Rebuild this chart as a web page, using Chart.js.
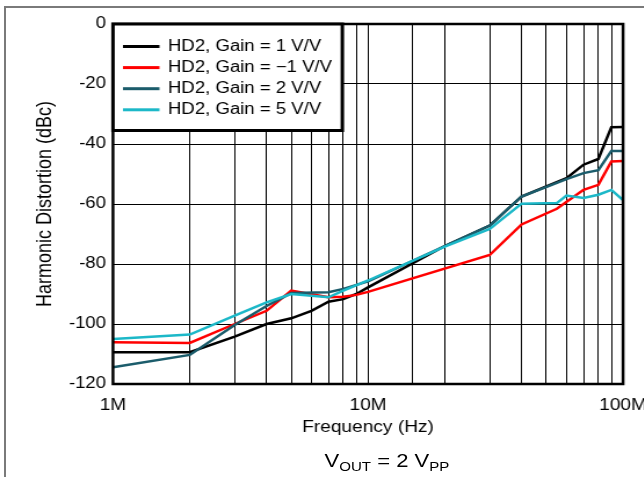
<!DOCTYPE html>
<html><head><meta charset="utf-8">
<script src="https://cdn.jsdelivr.net/npm/chart.js@4/dist/chart.umd.min.js"></script>
<style>
html,body{margin:0;padding:0;background:#fff;}
#wrap{position:relative;width:644px;height:477px;overflow:hidden;background:#fff;}
#stage{position:absolute;left:0;top:0;width:600px;height:477px;transform:scaleX(1.16);transform-origin:0 0;}
#c{position:absolute;left:0;top:0;}
#frameL{position:absolute;left:4px;top:6px;width:2px;height:471px;background:#7a7a7a;}
#frameT{position:absolute;left:4px;top:6px;width:640px;height:2px;background:#7a7a7a;}
#sub{position:absolute;left:333.6px;top:450px;transform:translateX(-50%);white-space:nowrap;font-family:"Liberation Sans",Arial,sans-serif;font-size:19px;color:#000;line-height:22px;}
#sub sub{font-size:13px;vertical-align:-4px;line-height:0;}
</style>
</head><body>
<div id="wrap">
  <div id="stage">
    <canvas id="c" width="600" height="477" style="width:600px;height:477px"></canvas>
    <div id="sub">V<sub>OUT</sub> = 2 V<sub>PP</sub></div>
  </div>
  <div id="frameL"></div>
  <div id="frameT"></div>
</div>
<script>
// ---- data (frequencies in MHz, distortion in dBc) ----
const freqG1  = [1,2,3,4,5,6,7,8,9,10,20,30,40,60,70,80,90,100];
const hd2G1   = [-109.4,-109.4,-104.2,-100,-98.1,-95.6,-92.6,-91.7,-90,-87.8,-74,-67.2,-57.5,-51.4,-46.9,-45,-34.4,-34.3];

const freqGm1 = [1,2,3,4,5,7,8,9,10,30,40,55,70,80,90,100];
const hd2Gm1  = [-106.1,-106.3,-100,-95.6,-88.9,-91.1,-90.9,-90.3,-89.3,-77,-66.8,-61.6,-55.3,-53.6,-45.8,-45.7];

const freqG2  = [1,2,3,4,5,7,8,10,20,30,40,60,70,80,90,100];
const hd2G2   = [-114.4,-110.3,-100.3,-94,-89.7,-89.4,-88.3,-85.8,-74,-67.2,-57.5,-51.7,-49.7,-48.7,-42.3,-42.3];

const freqG5  = [1,2,3,4,5,7,8,10,20,30,40,55,60,70,80,90,100];
const hd2G5   = [-105,-103.5,-97.2,-92.8,-90,-91.1,-88.9,-85.5,-74.2,-68.3,-59.9,-59.7,-57.2,-58,-56.9,-55.3,-58.7];

const seriesLabels = ['HD2, Gain = 1 V/V','HD2, Gain = \u22121 V/V','HD2, Gain = 2 V/V','HD2, Gain = 5 V/V'];
const seriesColors = ['#000000','#ff0000','#1b5c6b','#1cb8c8'];

const xTickValues = [1e6,1e7,1e8];
const xTickLabels = ['1M','10M','100M'];
const yTickStep = 20;

const FONT = '"Liberation Sans", Arial, sans-serif';
const toPts = (f, v) => f.map((m, i) => ({x: m * 1e6, y: v[i]}));
const allF = [freqG1, freqGm1, freqG2, freqG5];
const allV = [hd2G1, hd2Gm1, hd2G2, hd2G5];

const datasets = allF.map((f, i) => ({
  label: seriesLabels[i],
  data: toPts(f, allV[i]),
  borderColor: seriesColors[i],
  backgroundColor: seriesColors[i],
  borderWidth: 2.5,
  pointRadius: 0,
  tension: 0,
  fill: false,
  order: 4 - i
}));

const framePlugin = {
  id: 'frameLegend',
  afterDraw(chart) {
    const ctx = chart.ctx, ca = chart.chartArea;
    ctx.save();
    ctx.strokeStyle = '#000';
    ctx.lineWidth = 2.5;
    ctx.strokeRect(ca.left, ca.top, ca.right - ca.left, ca.bottom - ca.top);
    // legend box
    const lx = ca.left, ly = ca.top, lw = 295.1 - ca.left, lh = 130.5 - ca.top;
    ctx.fillStyle = '#fff';
    ctx.fillRect(lx, ly, lw, lh);
    ctx.lineWidth = 3;
    ctx.strokeRect(lx, ly, lw, lh);
    ctx.font = '16px ' + FONT;
    ctx.textBaseline = 'middle';
    ctx.textAlign = 'left';
    chart.data.datasets.forEach((ds, i) => {
      const y = 46.5 + i * 21.1;
      ctx.strokeStyle = ds.borderColor;
      ctx.lineWidth = 3;
      ctx.beginPath();
      ctx.moveTo(106, y);
      ctx.lineTo(137.5, y);
      ctx.stroke();
      ctx.fillStyle = '#000';
      ctx.fillText(ds.label, 144.8, y);
    });
    ctx.restore();
  }
};

new Chart(document.getElementById('c'), {
  type: 'line',
  data: { datasets },
  options: {
    responsive: false,
    animation: false,
    devicePixelRatio: 1,
    layout: { padding: { left: 0, right: 62.9, top: 24, bottom: 0 } },
    plugins: { legend: { display: false }, tooltip: { enabled: false } },
    scales: {
      x: {
        type: 'logarithmic',
        min: 1e6, max: 1e8,
        afterFit(s) { s.height = 93; },
        grid: { color: '#000', lineWidth: 1, drawTicks: false },
        border: { display: false },
        ticks: {
          autoSkip: false, maxRotation: 0, padding: 12,
          color: '#000', font: { family: FONT, size: 16.5 },
          callback(v) {
            const i = xTickValues.findIndex(t => Math.abs(t - v) / t < 1e-6);
            return i >= 0 ? xTickLabels[i] : '';
          }
        },
        title: { display: true, text: 'Frequency (Hz)', color: '#000',
          font: { family: FONT, size: 16.5 }, padding: { top: 0, bottom: 40 } }
      },
      y: {
        min: -120, max: 0,
        afterFit(s) { s.width = 97.4; },
        grid: { color: '#000', lineWidth: 1, drawTicks: false },
        border: { display: false },
        ticks: { stepSize: yTickStep, padding: 6, color: '#000', font: { family: FONT, size: 16 } },
        title: { display: true, text: 'Harmonic Distortion (dBc)', color: '#000',
          font: { family: FONT, size: 18 }, padding: { top: 28, bottom: 0 } }
      }
    }
  },
  plugins: [framePlugin]
});
</script>
</body></html>
